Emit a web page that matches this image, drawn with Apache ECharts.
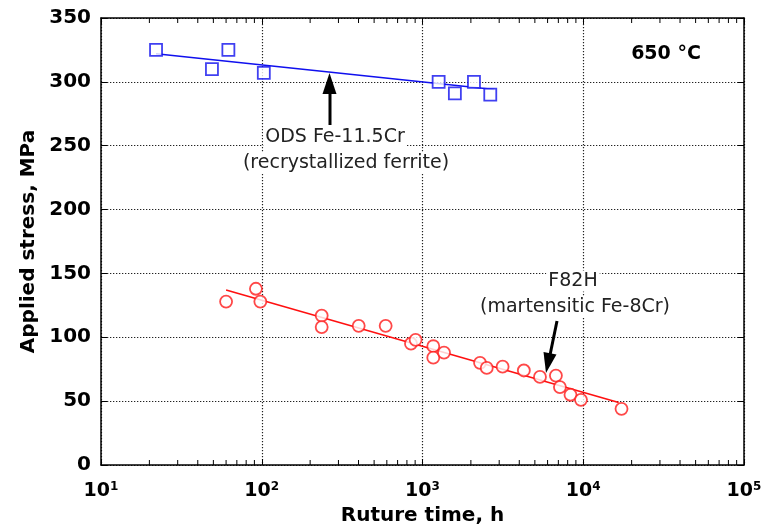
<!DOCTYPE html>
<html>
<head>
<meta charset="utf-8">
<script src="https://cdn.jsdelivr.net/npm/echarts@6/dist/echarts.min.js"></script>
<style>
html,body{margin:0;padding:0;background:#fff;}
#chart{width:778px;height:526px;}
</style>
</head>
<body>
<div id="chart"></div>
<script>
// ---- data ----
// ODS Fe-11.5Cr (recrystallized ferrite): rupture time (h), applied stress (MPa)
const odsTime   = [22, 49, 62, 103, 1260, 1590, 2090, 2640];
const odsStress = [325, 310, 325, 307, 300, 291, 300, 290];
const odsFitTime   = [22, 2800];
const odsFitStress = [322, 294];

// F82H (martensitic Fe-8Cr)
const f82Time   = [60, 92, 98, 236, 236, 401, 590, 848, 906, 1167, 1167, 1361, 2280, 2510, 3150, 4270, 5380, 6760, 7160, 8330, 9680, 17300];
const f82Stress = [128, 138, 128, 117, 108, 109, 109, 95, 98, 93, 84, 88, 80, 76, 77, 74, 69, 70, 61, 55, 51, 44];
const f82FitTime   = [60, 16600];
const f82FitStress = [137, 49];

// axis ticks
const xMajorTicks = [10, 100, 1000, 10000, 100000];
const xMinorTicks = [];
[10, 100, 1000, 10000].forEach(d => { for (let k = 2; k <= 9; k++) xMinorTicks.push(k * d); });
const yTicks = [0, 50, 100, 150, 200, 250, 300, 350];

const pair = (xs, ys) => xs.map((x, i) => [x, ys[i]]);

const FONT = '"DejaVu Sans", Verdana, sans-serif';
const gridLine = { show: true, lineStyle: { color: '#222', type: [1.3, 1.7], width: 1.2 } };

const chart = echarts.init(document.getElementById('chart'), null, { renderer: 'canvas' });

const option = {
  animation: false,
  backgroundColor: '#fff',
  grid: { left: 101, right: 34, top: 18, bottom: 61, containLabel: false, outerBoundsMode: 'none' },
  xAxis: [{
    type: 'log', logBase: 10, min: xMajorTicks[0], max: xMajorTicks[xMajorTicks.length - 1],
    position: 'bottom',
    name: 'Ruture time, h', nameLocation: 'middle', nameGap: 41,
    nameTextStyle: { fontFamily: FONT, fontWeight: 'bold', fontSize: 20, color: '#000' },
    axisLine: { show: true, onZero: false, lineStyle: { color: '#000', width: 1.5 } },
    axisTick: { show: true, inside: true, length: 6, lineStyle: { color: '#000' } },
    splitLine: gridLine,
    axisLabel: {
      margin: 16, color: '#000',
      formatter: v => {
        const e = Math.round(Math.log10(v));
        return '{b|10}{s|' + e + '}';
      },
      rich: {
        b: { fontFamily: FONT, fontWeight: 'bold', fontSize: 19, color: '#000' },
        s: { fontFamily: FONT, fontWeight: 'bold', fontSize: 12, color: '#000', verticalAlign: 'top', padding: [0, 0, 8, 0] }
      }
    }
  }, {
    type: 'log', logBase: 10, min: xMajorTicks[0], max: xMajorTicks[xMajorTicks.length - 1],
    position: 'top',
    axisLine: { show: true, onZero: false, lineStyle: { color: '#000', width: 1.5 } },
    axisTick: { show: true, inside: true, length: 6, lineStyle: { color: '#000' } },
    axisLabel: { show: false },
    splitLine: { show: false }
  }],
  yAxis: [{
    type: 'value', min: yTicks[0], max: yTicks[yTicks.length - 1], interval: 50,
    position: 'left',
    name: 'Applied stress, MPa', nameLocation: 'middle', nameGap: 56, nameRotate: 90,
    nameTextStyle: { fontFamily: FONT, fontWeight: 'bold', fontSize: 20, color: '#000' },
    axisLine: { show: true, onZero: false, lineStyle: { color: '#000', width: 1.5 } },
    axisTick: { show: true, inside: true, length: 6, lineStyle: { color: '#000' } },
    splitLine: gridLine,
    axisLabel: { margin: 10, fontFamily: FONT, fontWeight: 'bold', fontSize: 20, color: '#000' }
  }, {
    type: 'value', min: yTicks[0], max: yTicks[yTicks.length - 1], interval: 50,
    position: 'right',
    axisLine: { show: true, onZero: false, lineStyle: { color: '#000', width: 1.5 } },
    axisTick: { show: true, inside: true, length: 6, lineStyle: { color: '#000' } },
    axisLabel: { show: false },
    splitLine: { show: false }
  }],
  series: [
    {
      type: 'custom', name: 'minorTicks', silent: true, z: 1,
      xAxisIndex: 0, yAxisIndex: 0,
      data: xMinorTicks.map(v => [v, yTicks[0]]),
      renderItem: (params, api) => {
        const v = api.value(0);
        const pb = api.coord([v, yTicks[0]]);
        const pt = api.coord([v, yTicks[yTicks.length - 1]]);
        return {
          type: 'group',
          children: [
            { type: 'line', shape: { x1: pb[0], y1: pb[1], x2: pb[0], y2: pb[1] - 5 }, style: { stroke: '#000', lineWidth: 1 } },
            { type: 'line', shape: { x1: pt[0], y1: pt[1], x2: pt[0], y2: pt[1] + 5 }, style: { stroke: '#000', lineWidth: 1 } }
          ]
        };
      }
    },
    {
      type: 'line', name: 'ODS fit', data: pair(odsFitTime, odsFitStress),
      showSymbol: false, symbol: 'none', z: 3,
      lineStyle: { color: '#1010ee', width: 1.6 }
    },
    {
      type: 'line', name: 'F82H fit', data: pair(f82FitTime, f82FitStress),
      showSymbol: false, symbol: 'none', z: 3,
      lineStyle: { color: '#ff1010', width: 1.6 }
    },
    {
      type: 'scatter', name: 'ODS Fe-11.5Cr', data: pair(odsTime, odsStress),
      symbol: 'rect', symbolSize: 12, z: 5,
      itemStyle: { color: '#fff', borderColor: '#1010ee', borderWidth: 1.8 }
    },
    {
      type: 'scatter', name: 'F82H', data: pair(f82Time, f82Stress),
      symbol: 'circle', symbolSize: 12, z: 5,
      itemStyle: { color: '#fff', borderColor: '#ff1a1a', borderWidth: 1.8 }
    }
  ],
  graphic: [
    { type: 'text', x: 666, y: 54, z: 10,
      style: { text: '650 °C', font: 'bold 19px ' + FONT, fill: '#000', align: 'center', verticalAlign: 'middle' } },
    { type: 'text', x: 335, y: 137, z: 10,
      style: { text: 'ODS Fe-11.5Cr', font: '19px ' + FONT, fill: '#222', align: 'center', verticalAlign: 'middle',
               backgroundColor: '#fff', padding: [1, 2] } },
    { type: 'text', x: 346, y: 163, z: 10,
      style: { text: '(recrystallized ferrite)', font: '19px ' + FONT, fill: '#222', align: 'center', verticalAlign: 'middle',
               backgroundColor: '#fff', padding: [1, 2] } },
    { type: 'text', x: 573, y: 281, z: 10,
      style: { text: 'F82H', font: '19px ' + FONT, fill: '#222', align: 'center', verticalAlign: 'middle',
               backgroundColor: '#fff', padding: [1, 2] } },
    { type: 'text', x: 575, y: 307, z: 10,
      style: { text: '(martensitic Fe-8Cr)', font: '19px ' + FONT, fill: '#222', align: 'center', verticalAlign: 'middle',
               backgroundColor: '#fff', padding: [1, 2] } },
    // arrow to ODS fit
    { type: 'line', z: 10, shape: { x1: 330, y1: 125, x2: 330, y2: 90 }, style: { stroke: '#000', lineWidth: 3 } },
    { type: 'polygon', z: 10, shape: { points: [[329.5, 73], [322.5, 94], [336.5, 94]] }, style: { fill: '#000' } },
    // arrow to F82H fit
    { type: 'line', z: 10, shape: { x1: 557, y1: 321, x2: 550, y2: 355 }, style: { stroke: '#000', lineWidth: 3 } },
    { type: 'polygon', z: 10, shape: { points: [[546, 373], [556.5, 354.5], [543.5, 352]] }, style: { fill: '#000' } }
  ]
};

chart.setOption(option);
</script>
</body>
</html>
